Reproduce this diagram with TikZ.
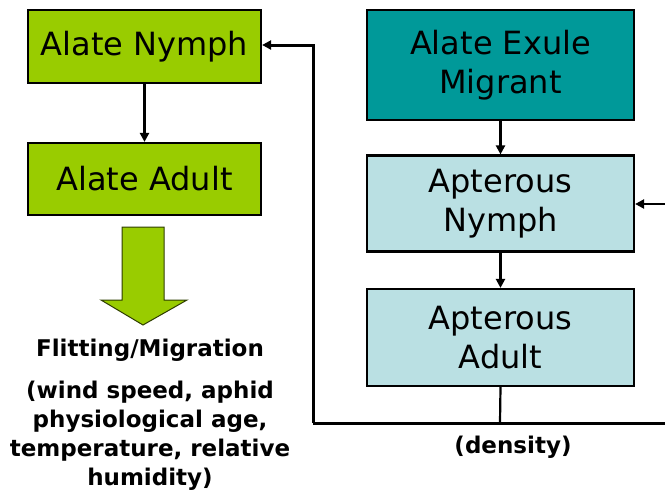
\documentclass[tikz,border=0pt]{standalone}
\usepackage{fontspec}
\setmainfont{DejaVu Sans}
\usetikzlibrary{arrows.meta}
\definecolor{lgreen}{HTML}{99CC00}
\definecolor{teal}{HTML}{009999}
\definecolor{lblue}{HTML}{BAE0E3}
\begin{document}
\begin{tikzpicture}[x=1pt,y=-1pt,
  box/.style={draw=black,line width=2.2pt,inner sep=0pt,align=center,
    font=\fontsize{32}{39}\selectfont},
  conn/.style={line width=3pt,-{Triangle[length=9pt,width=9pt]}},
  line/.style={line width=3pt},
  lbl/.style={font=\bfseries\fontsize{23}{29}\selectfont,align=center,inner sep=0pt}]
\useasboundingbox (0,0) rectangle (665,499);
\node[box,fill=lgreen,minimum width=233pt,minimum height=73pt] (an) at (144.5,46.5) {Alate Nymph};
\node[box,fill=lgreen,minimum width=233pt,minimum height=72pt] (aa) at (144.5,179) {Alate Adult};
\node[box,fill=teal,minimum width=267pt,minimum height=110pt] (ae) at (500.5,65) {Alate Exule\\Migrant};
\node[box,fill=lblue,minimum width=267pt,minimum height=96pt] (apn) at (500.5,203.5) {Apterous\\Nymph};
\node[box,fill=lblue,minimum width=267pt,minimum height=97pt] (apa) at (500.5,337.5) {Apterous\\Adult};
\draw[fill=lgreen,draw=black!70!lgreen,line width=1pt] (122,227) -- (164,227) -- (164,300) -- (187,300) -- (143,325) -- (101,300) -- (122,300) -- cycle;
\node[lbl] (flit) at (150,350) {Flitting/Migration};
\node[lbl,anchor=north] (cond) at (150,381) {(wind speed, aphid\\physiological age,\\temperature, relative\\humidity)};
\node[lbl] (dens) at (513,447) {(density)};
\coordinate (jl) at (313,423);
\coordinate (jm) at (500,423);
\coordinate (jr) at (670,423);
\coordinate (rt) at (670,204);
\draw[conn] (an.south) -- (aa.north);
\draw[conn] (ae.south) -- (apn.north);
\draw[conn,line width=2.2pt] (apn.south) -- (apa.north);
\draw[line,line width=2.2pt] (apa.south) -- (jm);
\draw[line] (jl) -- (jr);
\draw[conn] (jl) -- (313,45) -- (an.east |- 0,45);
\draw[conn,line width=2.2pt] (jr) -- (rt) -- (apn.east |- rt);
\end{tikzpicture}
\end{document}
